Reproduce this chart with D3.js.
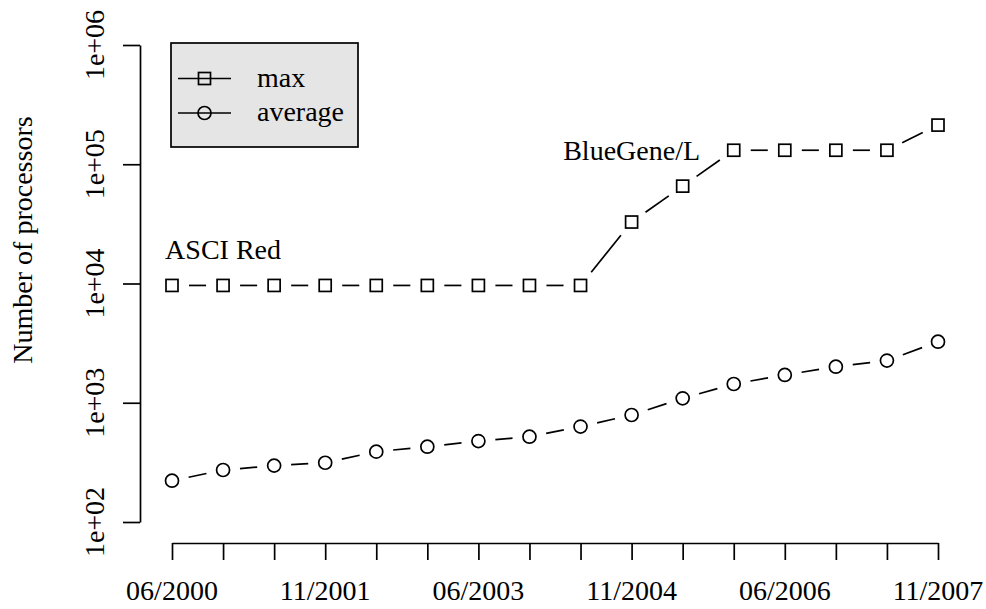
<!DOCTYPE html>
<html>
<head>
<meta charset="utf-8">
<script src="https://cdn.jsdelivr.net/npm/d3@7"></script>
<style>
  html, body { margin: 0; padding: 0; background: #fff; }
  svg text { font-family: "Liberation Serif", "Times New Roman", serif; fill: #000; }
</style>
</head>
<body>
<svg id="chart" width="986" height="609"></svg>
<script>
// ---- data ----
const categories = ["06/2000","11/2000","06/2001","11/2001","06/2002","11/2002","06/2003","11/2003",
                    "06/2004","11/2004","06/2005","11/2005","06/2006","11/2006","06/2007","11/2007"];
const shownLabels = ["06/2000","11/2001","06/2003","11/2004","06/2006","11/2007"];
const maxValues = [9632, 9632, 9632, 9632, 9632, 9632, 9632, 9632, 9632,
                   32768, 65536, 131072, 131072, 131072, 131072, 212992];
const avgValues = [222, 273, 297, 314, 389, 428, 477, 519, 631,
                   789, 1089, 1436, 1711, 2005, 2256, 3251];
const yTicks = [1e2, 1e3, 1e4, 1e5, 1e6];
const yTickLabels = ["1e+02", "1e+03", "1e+04", "1e+05", "1e+06"];
const annotations = [
  { text: "ASCI Red", index: 1, value: 19500 },
  { text: "BlueGene/L", index: 9, value: 130000 }
];
const seriesNames = ["max", "average"];

// ---- layout ----
const svg = d3.select("#chart");
const FS = 28;
const x = d3.scaleLinear().domain([0, categories.length - 1]).range([172, 938]);
const y = d3.scaleLog().domain([1e2, 1e6]).range([522, 45]);
const axisX = 140, axisY = 543, tickLen = 17;
const lw = 1.7;

// y axis
const yAxis = d3.axisLeft(y).tickValues(yTicks).tickSize(tickLen).tickSizeOuter(0).tickFormat(() => "");
const gy = svg.append("g").attr("transform", `translate(${axisX},0)`).call(yAxis);
gy.select(".domain").attr("stroke", "#000").attr("stroke-width", lw);
gy.selectAll(".tick line").attr("stroke", "#000").attr("stroke-width", lw);
gy.selectAll(".tick text").remove();
svg.append("g").selectAll("text").data(yTicks).join("text")
  .attr("transform", (d) => `translate(104,${y(d)}) rotate(-90)`)
  .attr("text-anchor", "middle")
  .style("font-size", FS + "px")
  .text((d, i) => yTickLabels[i]);

// x axis
const xAxis = d3.axisBottom(x).tickValues(d3.range(categories.length)).tickSize(tickLen).tickSizeOuter(0).tickFormat(() => "");
const gx = svg.append("g").attr("transform", `translate(0,${axisY})`).call(xAxis);
gx.select(".domain").attr("stroke", "#000").attr("stroke-width", lw);
gx.selectAll(".tick line").attr("stroke", "#000").attr("stroke-width", lw);
gx.selectAll(".tick text").remove();
svg.append("g").selectAll("text").data(shownLabels).join("text")
  .attr("x", (d) => x(categories.indexOf(d)))
  .attr("y", 600)
  .attr("text-anchor", "middle")
  .style("font-size", FS + "px")
  .text((d) => d);

// y title
svg.append("text")
  .attr("transform", `translate(32,240) rotate(-90)`)
  .attr("text-anchor", "middle")
  .style("font-size", FS + "px")
  .text("Number of processors");

// ---- series: type "b" lines with gaps ----
const gap = 17;
function drawSeries(values, shape) {
  const pts = values.map((v, i) => [x(i), y(v)]);
  const g = svg.append("g");
  for (let i = 0; i < pts.length - 1; i++) {
    const [x1, y1] = pts[i], [x2, y2] = pts[i + 1];
    const dx = x2 - x1, dy = y2 - y1, L = Math.hypot(dx, dy);
    if (L <= 2 * gap) continue;
    const ux = dx / L, uy = dy / L;
    g.append("line")
      .attr("x1", x1 + ux * gap).attr("y1", y1 + uy * gap)
      .attr("x2", x2 - ux * gap).attr("y2", y2 - uy * gap)
      .attr("stroke", "#000").attr("stroke-width", lw);
  }
  pts.forEach(([px, py]) => drawSymbol(g, px, py, shape));
}
function drawSymbol(g, px, py, shape) {
  if (shape === "square") {
    g.append("rect").attr("x", px - 6).attr("y", py - 6).attr("width", 12).attr("height", 12)
      .attr("fill", "none").attr("stroke", "#000").attr("stroke-width", lw);
  } else {
    g.append("circle").attr("cx", px).attr("cy", py).attr("r", 6.5)
      .attr("fill", "none").attr("stroke", "#000").attr("stroke-width", lw);
  }
}
drawSeries(maxValues, "square");
drawSeries(avgValues, "circle");

// annotations
svg.append("g").selectAll("text").data(annotations).join("text")
  .attr("x", (d) => x(d.index))
  .attr("y", (d) => y(d.value))
  .attr("dy", "0.35em")
  .attr("text-anchor", "middle")
  .style("font-size", FS + "px")
  .text((d) => d.text);

// ---- legend ----
const lg = svg.append("g");
lg.append("rect").attr("x", 171).attr("y", 43).attr("width", 187).attr("height", 104)
  .attr("fill", "#e5e5e5").attr("stroke", "#000").attr("stroke-width", lw);
const shapes = ["square", "circle"];
seriesNames.forEach((name, i) => {
  const ly = 78.5 + i * 34.5;
  lg.append("line").attr("x1", 178).attr("x2", 231).attr("y1", ly).attr("y2", ly)
    .attr("stroke", "#000").attr("stroke-width", lw);
  drawSymbol(lg, 204.5, ly, shapes[i]);
  lg.append("text").attr("x", 257).attr("y", ly).attr("dy", "0.3em")
    .style("font-size", FS + "px").text(name);
});
</script>
</body>
</html>
